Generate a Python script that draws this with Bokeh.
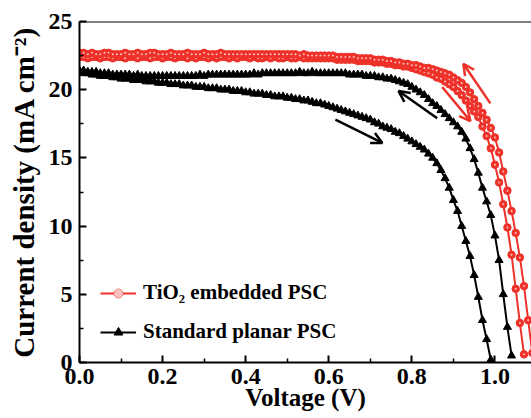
from bokeh.plotting import figure
from bokeh.models import (Span, Arrow, OpenHead, Legend, LegendItem, FixedTicker,
                          PrintfTickFormatter, Range1d)
from bokeh.embed import file_html
from bokeh.resources import INLINE

# ---------------- data ----------------
VOLTAGE = [
    0.00, 0.01, 0.02, 0.03, 0.04, 0.05, 0.06, 0.07, 0.08, 0.09,
    0.10, 0.11, 0.12, 0.13, 0.14, 0.15, 0.16, 0.17, 0.18, 0.19,
    0.20, 0.21, 0.22, 0.23, 0.24, 0.25, 0.26, 0.27, 0.28, 0.29,
    0.30, 0.31, 0.32, 0.33, 0.34, 0.35, 0.36, 0.37, 0.38, 0.39,
    0.40, 0.41, 0.42, 0.43, 0.44, 0.45, 0.46, 0.47, 0.48, 0.49,
    0.50, 0.51, 0.52, 0.53, 0.54, 0.55, 0.56, 0.57, 0.58, 0.59,
    0.60, 0.61, 0.62, 0.63, 0.64, 0.65, 0.66, 0.67, 0.68, 0.69,
    0.70, 0.71, 0.72, 0.73, 0.74, 0.75, 0.76, 0.77, 0.78, 0.79,
    0.80, 0.81, 0.82, 0.83, 0.84, 0.85, 0.86, 0.87, 0.88, 0.89,
    0.90, 0.91, 0.92, 0.93, 0.94, 0.95, 0.96, 0.97, 0.98, 0.99,
    1.00, 1.01, 1.02, 1.03, 1.04, 1.05, 1.06, 1.07, 1.08, 1.09,
]

TIO2_REVERSE = [
    22.7, 22.7, 22.6, 22.7, 22.6, 22.6, 22.7, 22.7, 22.6, 22.6,
    22.6, 22.7, 22.6, 22.6, 22.7, 22.6, 22.6, 22.7, 22.7, 22.6,
    22.6, 22.6, 22.7, 22.6, 22.6, 22.6, 22.7, 22.6, 22.6, 22.6,
    22.7, 22.6, 22.6, 22.6, 22.7, 22.6, 22.6, 22.6, 22.6, 22.6,
    22.6, 22.6, 22.6, 22.6, 22.6, 22.6, 22.6, 22.6, 22.6, 22.6,
    22.6, 22.6, 22.6, 22.5, 22.6, 22.5, 22.5, 22.5, 22.5, 22.5,
    22.5, 22.5, 22.4, 22.4, 22.4, 22.4, 22.4, 22.3, 22.3, 22.3,
    22.3, 22.2, 22.2, 22.2, 22.1, 22.1, 22.0, 22.0, 21.9, 21.9,
    21.8, 21.8, 21.7, 21.6, 21.6, 21.5, 21.4, 21.3, 21.2, 21.1,
    20.9, 20.7, 20.5, 20.2, 19.8, 19.3, 18.8, 18.3, 17.8, 17.2,
    16.5, 15.4, 14.0, 12.6, 11.1, 9.5, 7.7, 5.6, 3.1, 0.7,
]

TIO2_FORWARD = [
    22.4, 22.4, 22.3, 22.4, 22.4, 22.3, 22.4, 22.4, 22.3, 22.4,
    22.4, 22.3, 22.4, 22.4, 22.3, 22.4, 22.4, 22.3, 22.4, 22.4,
    22.3, 22.4, 22.4, 22.3, 22.4, 22.4, 22.3, 22.4, 22.3, 22.4,
    22.4, 22.3, 22.4, 22.3, 22.4, 22.4, 22.3, 22.4, 22.3, 22.4,
    22.4, 22.3, 22.4, 22.3, 22.3, 22.4, 22.3, 22.4, 22.3, 22.3,
    22.4, 22.3, 22.3, 22.4, 22.3, 22.3, 22.3, 22.3, 22.3, 22.3,
    22.3, 22.3, 22.2, 22.2, 22.2, 22.2, 22.2, 22.1, 22.1, 22.1,
    22.1, 22.0, 22.0, 22.0, 21.9, 21.9, 21.8, 21.8, 21.7, 21.7,
    21.6, 21.5, 21.4, 21.3, 21.2, 21.1, 20.9, 20.8, 20.6, 20.4,
    20.2, 19.9, 19.6, 19.2, 18.8, 18.4, 18.0, 17.3, 16.6, 15.7,
    14.5, 13.2, 11.6, 9.9, 7.9, 5.4, 2.9, 0.6,
]

STD_REVERSE = [
    21.4, 21.4, 21.3, 21.3, 21.3, 21.2, 21.2, 21.2, 21.1, 21.1,
    21.1, 21.1, 21.1, 21.0, 21.1, 21.0, 21.0, 21.0, 21.0, 21.0,
    21.0, 21.0, 21.0, 21.0, 21.0, 21.0, 21.0, 21.0, 21.0, 21.1,
    21.0, 21.1, 21.1, 21.1, 21.1, 21.1, 21.1, 21.1, 21.1, 21.1,
    21.1, 21.1, 21.2, 21.1, 21.2, 21.2, 21.2, 21.2, 21.2, 21.2,
    21.2, 21.2, 21.2, 21.3, 21.2, 21.2, 21.3, 21.2, 21.2, 21.2,
    21.2, 21.2, 21.2, 21.2, 21.2, 21.1, 21.1, 21.1, 21.1, 21.0,
    21.0, 21.0, 20.9, 20.9, 20.8, 20.8, 20.7, 20.6, 20.5, 20.4,
    20.2, 20.0, 19.8, 19.6, 19.3, 19.0, 18.8, 18.5, 18.2, 17.9,
    17.6, 17.3, 16.9, 16.4, 15.7, 14.9, 13.9, 12.8, 11.8, 10.8,
    9.3, 7.5, 5.0, 2.6, 0.5,
]

STD_FORWARD = [
    21.3, 21.2, 21.2, 21.1, 21.1, 21.0, 21.0, 21.0, 20.9, 20.9,
    20.8, 20.8, 20.8, 20.7, 20.7, 20.7, 20.6, 20.6, 20.6, 20.5,
    20.5, 20.5, 20.4, 20.4, 20.4, 20.3, 20.3, 20.3, 20.2, 20.2,
    20.2, 20.1, 20.1, 20.1, 20.0, 20.0, 20.0, 19.9, 19.9, 19.9,
    19.8, 19.8, 19.7, 19.7, 19.7, 19.6, 19.6, 19.5, 19.5, 19.5,
    19.4, 19.4, 19.3, 19.3, 19.2, 19.2, 19.1, 19.0, 19.0, 18.9,
    18.8, 18.7, 18.6, 18.5, 18.4, 18.3, 18.2, 18.1, 18.0, 17.9,
    17.8, 17.6, 17.5, 17.3, 17.2, 17.1, 16.9, 16.8, 16.6, 16.4,
    16.2, 16.0, 15.8, 15.6, 15.3, 15.0, 14.6, 14.1, 13.5, 12.8,
    11.9, 11.1, 10.0, 8.9, 7.8, 6.4, 4.8, 3.1, 1.7, 0.2,
]

X_TICKS = [0.0, 0.2, 0.4, 0.6, 0.8, 1.0]
X_MINOR = [0.1, 0.3, 0.5, 0.7, 0.9]
Y_TICKS = [0, 5, 10, 15, 20, 25]
Y_MINOR = [2.5, 7.5, 12.5, 17.5, 22.5]

LEGEND_TIO2 = "TiO\u2082 embedded PSC"
LEGEND_STD = "Standard planar PSC"

# scan-direction arrows: (v_start, j_start, v_end, j_end)
RED_ARROWS = [(0.989, 19.0, 0.924, 21.9), (0.873, 20.2, 0.941, 17.7)]
BLACK_ARROWS = [(0.861, 17.9, 0.768, 19.9), (0.616, 17.8, 0.729, 16.1)]

RED = "#ee3129"
FONT = "Liberation Serif"

# ---------------- figure ----------------
p = figure(width=531, height=418, x_range=Range1d(0, 1.088), y_range=Range1d(0, 25),
           output_backend="svg", toolbar_location=None,
           min_border_left=79, min_border_right=0, min_border_top=21, min_border_bottom=56)
p.outline_line_color = None
p.grid.visible = False
p.background_fill_color = "white"

for ax in (p.xaxis[0], p.yaxis[0]):
    ax.axis_line_width = 2
    ax.axis_line_color = "black"
    ax.major_tick_line_width = 2
    ax.minor_tick_line_width = 1.5
    ax.major_tick_in = 7
    ax.major_tick_out = 0
    ax.minor_tick_in = 4
    ax.minor_tick_out = 0
    ax.major_label_text_font = FONT
    ax.major_label_text_font_style = "bold"
    ax.major_label_text_font_size = "24px"
    ax.major_label_text_color = "black"
    ax.axis_label_text_font = FONT
    ax.axis_label_text_font_style = "bold"
    ax.axis_label_text_color = "black"

p.xaxis[0].ticker = FixedTicker(ticks=X_TICKS, minor_ticks=X_MINOR)
p.xaxis[0].formatter = PrintfTickFormatter(format="%.1f")
p.xaxis[0].major_label_standoff = 6
p.xaxis[0].axis_label = "Voltage (V)"
p.xaxis[0].axis_label_text_font_size = "25px"
p.xaxis[0].axis_label_standoff = -3

p.yaxis[0].ticker = FixedTicker(ticks=Y_TICKS, minor_ticks=Y_MINOR)
p.yaxis[0].major_label_standoff = 7
p.yaxis[0].axis_label = "Current density (mA cm\u207b\u00b2)"
p.yaxis[0].axis_label_text_font_size = "29px"
p.yaxis[0].axis_label_standoff = 6

p.add_layout(Span(location=25, dimension="width", line_color="black", line_width=2))

# ---------------- curves ----------------
def black_curve(j):
    v = VOLTAGE[:len(j)]
    r_line = p.line(v, j, line_color="black", line_width=2)
    r_mark = p.scatter(v, j, marker="triangle", size=8, fill_color="black", line_color="black")
    return r_line, r_mark

def red_curve(j):
    v = VOLTAGE[:len(j)]
    r_line = p.line(v, j, line_color=RED, line_width=2)
    r_mark = p.scatter(v, j, marker="circle", size=7.5, fill_color=RED, line_color=RED, line_width=1)
    r_dot = p.scatter(v, j, marker="circle", size=2, fill_color="white", line_color=None,
                      fill_alpha=0.7)
    return r_line, r_mark, r_dot

s1 = black_curve(STD_FORWARD)
s2 = black_curve(STD_REVERSE)
t1 = red_curve(TIO2_FORWARD)
t2 = red_curve(TIO2_REVERSE)

for (vs, js, ve, je) in RED_ARROWS:
    p.add_layout(Arrow(end=OpenHead(size=11, line_width=2.5, line_color=RED),
                       x_start=vs, y_start=js, x_end=ve, y_end=je,
                       line_color=RED, line_width=2.5))
for (vs, js, ve, je) in BLACK_ARROWS:
    p.add_layout(Arrow(end=OpenHead(size=11, line_width=2.5, line_color="black"),
                       x_start=vs, y_start=js, x_end=ve, y_end=je,
                       line_color="black", line_width=2.5))

legend = Legend(items=[LegendItem(label=LEGEND_TIO2, renderers=list(t2)),
                       LegendItem(label=LEGEND_STD, renderers=list(s2))],
                location=(21, 18), orientation="vertical",
                label_text_font=FONT, label_text_font_style="bold",
                label_text_font_size="21px", label_text_color="black",
                glyph_width=36, glyph_height=22, label_height=22, label_standoff=7,
                spacing=14, padding=0, margin=0,
                border_line_color=None, background_fill_alpha=0)
p.add_layout(legend)

open("out.html", "w").write(file_html(p, INLINE))
